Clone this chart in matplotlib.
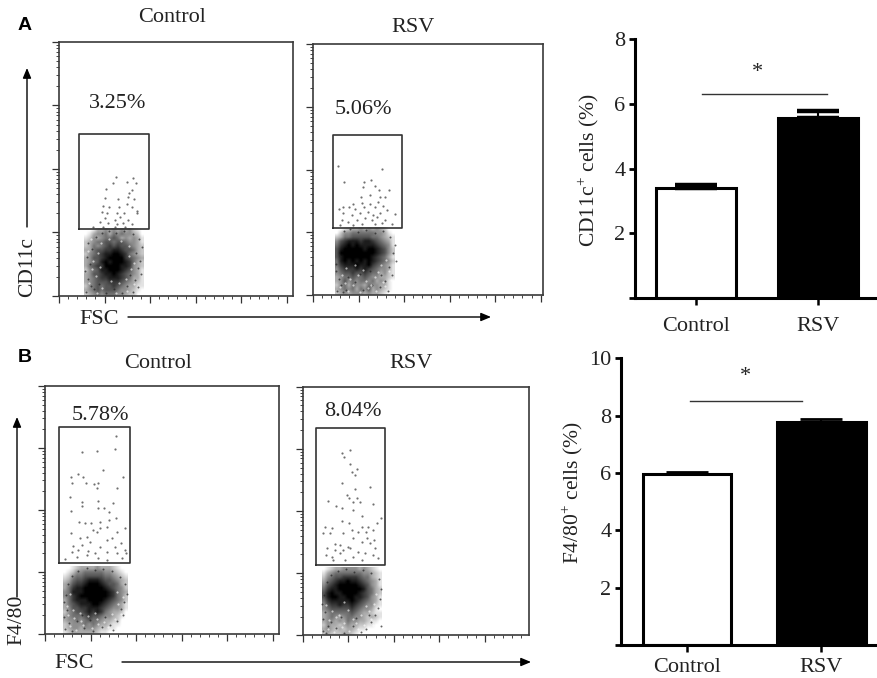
import numpy as np
import matplotlib
matplotlib.use("Agg")
import matplotlib.pyplot as plt

plt.rcParams['font.family'] = ['Liberation Serif', 'DejaVu Serif']
plt.rcParams['mathtext.fontset'] = 'custom'
plt.rcParams['mathtext.rm'] = 'Liberation Serif'

W = 878
H = 678
DARK = '#222222'

# bar values
groups = ['Control', 'RSV']
cd11c_means = [3.40, 5.56]
cd11c_errs = [0.09, 0.21]
f480_means = [5.97, 7.79]
f480_errs = [0.07, 0.09]

# flow plots, units are arbitrary channels (3 per reference pixel)
# cloud = darkness 0-9 of the dense part, top row first
a_ctrl_cloud = ["001334343434210",
                "013445354544320",
                "124345565343431",
                "234556656654431",
                "235456767665432",
                "335667788766532",
                "245678899875432",
                "346678999976543",
                "345689899987532",
                "356779999887432",
                "245688999876431",
                "346678898765431",
                "345677888765331",
                "345666777654321",
                "245656676543311",
                "345656665443210",
                "234545554432200"]
a_ctrl_x = [171,161,223,203,231,140,218,211,207,225,178,138,131,151,181,203,218,233,128,145,175,195,235,138,168,183,208,123,148,173,193,218,103,133,168,198]
a_ctrl_y = [358,338,355,343,340,322,318,310,298,291,291,293,270,268,266,276,268,256,253,248,248,250,248,233,228,238,228,223,218,216,220,216,208,208,208,208]
a_ctrl_dark_x = [82,95,88,105,78,92,84,100,86,110,128,150,172,196,222,240,248,232,244,236,246,228,238,222,205,190,165,140,120,214]
a_ctrl_dark_y = [12,30,52,20,75,95,118,140,160,178,190,196,188,194,186,170,148,128,105,84,66,48,26,12,30,10,22,8,35,62]
a_ctrl_light_x = [90,110,102,118,96,125,150,185,210,225,215,200,180,155,130,115,170,205,225,100,122,210,88]
a_ctrl_light_y = [40,60,105,130,170,160,170,165,150,100,80,50,40,45,25,10,8,15,35,82,88,120,135]

a_rsv_cloud = ["001233434343200",
               "024455555544310",
               "235566666554321",
               "467888788765431",
               "578989888876541",
               "689999989987642",
               "699999999987642",
               "689999999876531",
               "589898989876542",
               "578889889765431",
               "467778787654431",
               "456676676553421",
               "345565565443321",
               "346454554534310",
               "245354435443310",
               "345453546343210",
               "234344434332100"]
a_rsv_x = [76,208,94,153,173,186,151,198,229,171,143,201,216,121,146,196,79,91,109,126,153,171,186,211,221,246,91,116,141,166,181,201,86,106,131,156,176,193,216,236,81,121,146,186,206]
a_rsv_y = [387,376,339,339,344,326,324,314,314,299,292,294,292,272,274,277,256,262,262,256,264,272,264,266,254,242,244,239,244,249,239,244,224,219,224,229,224,234,224,212,209,209,212,212,214]
a_rsv_dark_x = [72,85,78,98,70,68,80,92,110,135,160,185,210,232,245,240,250,228,236,215,200,225,178,150,125,105,90,140,170,205]
a_rsv_dark_y = [10,28,48,15,70,92,115,190,196,188,194,186,190,172,150,125,100,82,58,40,22,12,30,14,38,52,8,62,70,60]
a_rsv_light_x = [82,105,120,140,165,190,215,235,88,112,135,160,185,210,228,100,150,175,205,95,125,195,220]
a_rsv_light_y = [22,12,30,8,20,12,25,45,60,48,58,42,52,38,70,80,75,30,88,35,90,68,105]

b_ctrl_cloud = ["0012333343332100",
                "0124455555443210",
                "1245566666554321",
                "2356678887665432",
                "3467789998766532",
                "3578899999876542",
                "4588899999987543",
                "4578999999987542",
                "3578889999876542",
                "3567888998765431",
                "3466778887654431",
                "2456678787543320",
                "3455567665443210",
                "3445456554332200",
                "2344454543321100",
                "2344344432211000",
                "1233333321100000"]
b_ctrl_x = [214,211,157,112,173,99,77,115,235,80,123,158,147,157,217,74,158,110,205,110,77,158,178,193,103,120,165,193,213,137,145,165,185,215,240,77,105,127,155,185,200,227,85,110,135,165,210,240,80,100,130,150,185,215,243,60,95,125,160,185,230]
b_ctrl_y = [594,555,550,546,492,479,472,470,470,454,454,454,449,437,437,410,399,396,392,385,369,377,377,367,337,334,337,342,347,332,312,317,322,307,317,304,287,292,307,282,287,272,264,267,277,260,262,252,247,252,250,242,247,242,242,224,232,237,227,222,227]
b_ctrl_dark_x = [60,72,58,66,56,62,70,82,100,125,150,175,200,225,240,246,238,228,235,215,195,205,170,145,118,95,80,180,135,110]
b_ctrl_dark_y = [14,32,50,72,95,118,150,175,190,198,192,196,188,172,150,120,95,75,58,40,28,12,22,8,18,38,8,50,42,56]
b_ctrl_light_x = [75,92,115,140,160,190,210,228,70,88,108,130,155,178,200,220,85,235,105,215,65,75,150]
b_ctrl_light_y = [24,12,28,18,30,20,45,60,58,48,40,55,45,35,60,90,72,110,62,125,85,120,62]

b_rsv_cloud = ["012334444343210",
               "134555555544321",
               "245667777655321",
               "356788988765431",
               "467899999876431",
               "578899999986532",
               "689889999876532",
               "689988998876431",
               "578888898765431",
               "467787787654421",
               "456666676544310",
               "345555565433211",
               "345434554432321",
               "344343544332110",
               "243323433221100",
               "343232332110000",
               "232223321000000"]
b_rsv_x = [117,141,125,142,162,148,158,117,202,157,132,140,162,152,172,76,210,100,117,152,177,234,224,117,140,67,87,177,197,212,62,82,122,147,167,190,152,177,214,97,112,137,192,202,72,97,122,142,217,70,87,112,167,187,212,92,127,152,177,227]
b_rsv_y = [548,555,534,513,499,490,481,458,446,438,421,411,411,401,401,402,394,389,381,376,359,351,338,343,336,324,321,324,326,316,308,308,306,316,311,311,291,281,286,274,271,266,291,276,261,256,256,261,261,241,236,246,251,246,241,226,226,236,226,231]
b_rsv_dark_x = [62,75,60,68,58,64,72,85,105,130,155,180,205,228,236,232,226,218,236,205,190,175,150,125,100,85,70,160,200,115]
b_rsv_dark_y = [12,28,48,70,95,122,160,180,192,198,190,196,186,168,140,110,82,60,28,40,20,10,28,8,22,40,8,52,60,55]
b_rsv_light_x = [75,95,118,140,165,185,205,80,100,125,150,175,198,215,88,110,135,160,190,220,70,210,125]
b_rsv_light_y = [20,10,25,12,18,30,48,45,55,38,48,60,72,95,72,62,75,38,88,125,92,30,100]


def px_axes(fig, x0, x1, ytop, ybot):
    return fig.add_axes([x0 / W, 1 - ybot / H, (x1 - x0) / W, (ybot - ytop) / H])


def flow_panel(fig, box, cloud, cloud_x0, px, py, dark, light, gate):
    ax = px_axes(fig, *box)
    w = (box[1] - box[0]) * 3
    h = (box[3] - box[2]) * 3
    grid = np.array([[int(c) for c in row] for row in cloud], dtype=float)
    ext = (cloud_x0, cloud_x0 + 12 * grid.shape[1], 0, 12 * grid.shape[0])
    ax.imshow(grid, extent=ext, cmap='gray_r', vmin=0, vmax=9, aspect='auto',
              interpolation='bilinear', origin='upper')
    ax.scatter(dark[0], dark[1], s=2, color='#222222', linewidths=0, alpha=0.7)
    ax.scatter(light[0], light[1], s=2.5, color='white', linewidths=0, alpha=0.6)
    ax.scatter(px, py, s=2.5, color='#333333', linewidths=0, alpha=0.7)
    ax.plot([gate[0], gate[1], gate[1], gate[0], gate[0]],
            [gate[2], gate[2], gate[3], gate[3], gate[2]], color='#333333', lw=1.2)
    ax.set_xlim(0, w)
    ax.set_ylim(0, h)
    step = 136.6
    ax.set_xticks(np.arange(0, w, step))
    ax.set_xticks(np.arange(0, w, step / 5), minor=True)
    dec = h / 4
    ax.set_yticks([dec * k for k in range(5)])
    minor = [dec * (k + np.log10(m)) for k in range(4) for m in range(2, 10)]
    ax.set_yticks(minor, minor=True)
    ax.set_xticklabels([])
    ax.set_yticklabels([])
    ax.tick_params(which='major', length=5, width=0.9, color='#333333')
    ax.tick_params(which='minor', length=2.5, width=0.7, color='#444444')
    for s in ax.spines.values():
        s.set_linewidth(1.2)
        s.set_color('#3a3a3a')
    return ax


def bar_panel(fig, box, means, errs, ymax, ticks, xlim, line_x, line_y, star_x, star_y, pad, capw):
    ax = px_axes(fig, *box)
    xs = [0, 1]
    ax.bar(xs, means, width=0.66, color=['white', 'black'], edgecolor='black', linewidth=2.2)
    ax.errorbar(xs, means, yerr=[[0, 0], errs], fmt='none', ecolor='black',
                elinewidth=1.5, capsize=15, capthick=capw)
    ax.plot(line_x, [line_y, line_y], color='#333333', lw=1.0)
    ax.text(star_x, star_y, '*', ha='center', va='center', fontsize=16, color=DARK)
    ax.set_xlim(*xlim)
    ax.set_ylim(0, ymax)
    ax.set_xticks(xs)
    ax.set_xticklabels(groups, fontsize=16, color=DARK)
    ax.set_yticks([0] + ticks)
    ax.set_yticklabels([''] + [str(t) for t in ticks], fontsize=16, color=DARK)
    ax.tick_params(axis='x', length=5, width=1.8, pad=pad)
    ax.tick_params(axis='y', length=4, width=2, pad=3)
    ax.spines['top'].set_visible(False)
    ax.spines['right'].set_visible(False)
    ax.spines['left'].set_linewidth(2.2)
    ax.spines['bottom'].set_linewidth(2.2)
    return ax


fig = plt.figure(figsize=(W / 100, H / 100), dpi=100)

flow_panel(fig, (59, 292.7, 42, 296), a_ctrl_cloud, 75, a_ctrl_x, a_ctrl_y,
           (a_ctrl_dark_x, a_ctrl_dark_y), (a_ctrl_light_x, a_ctrl_light_y), (60, 269, 201, 485))
flow_panel(fig, (313, 543.3, 44.3, 294.7), a_rsv_cloud, 66, a_rsv_x, a_rsv_y,
           (a_rsv_dark_x, a_rsv_dark_y), (a_rsv_light_x, a_rsv_light_y), (59, 266, 200, 478))
flow_panel(fig, (45, 279, 386, 634), b_ctrl_cloud, 55, b_ctrl_x, b_ctrl_y,
           (b_ctrl_dark_x, b_ctrl_dark_y), (b_ctrl_light_x, b_ctrl_light_y), (41, 256, 212, 620))
flow_panel(fig, (302.7, 529, 386.7, 635.3), b_rsv_cloud, 57, b_rsv_x, b_rsv_y,
           (b_rsv_dark_x, b_rsv_dark_y), (b_rsv_light_x, b_rsv_light_y), (40, 248, 212, 621))

bar_panel(fig, (635, 878, 39.3, 298), cd11c_means, cd11c_errs, 8, [2, 4, 6, 8],
          (-0.5, 1.49), [0.05, 1.07], 6.32, 0.5, 6.98, 9, 3.2)
bar_panel(fig, (621, 878, 358.3, 645), f480_means, f480_errs, 10, [2, 4, 6, 8, 10],
          (-0.49, 1.42), [0.02, 0.856], 8.51, 0.436, 9.36, 4, 2.0)

# text and arrows placed in reference pixels
ov = fig.add_axes([0, 0, 1, 1])
ov.set_xlim(0, W)
ov.set_ylim(H, 0)
ov.axis('off')
ov.patch.set_alpha(0)

labels = [('Control', 172, 18), ('RSV', 413, 27), ('Control', 158, 363), ('RSV', 411, 363),
          ('3.25%', 118, 104), ('5.06%', 363, 110), ('5.78%', 100, 415), ('8.04%', 353, 411),
          ('FSC', 99, 320), ('FSC', 74, 663)]
for txt, x, y in labels:
    ov.text(x, y, txt, ha='center', va='center', fontsize=16, color=DARK)

ov.text(28, 267, 'CD11c', rotation=90, ha='center', va='center', fontsize=15.5, color=DARK)
ov.text(17, 620, 'F4/80', rotation=90, ha='center', va='center', fontsize=15.5, color=DARK)
ov.text(588, 170, 'CD11c$^{+}$ cells (%)', rotation=90, ha='center', va='center', fontsize=15.5, color=DARK)
ov.text(572, 493, 'F4/80$^{+}$ cells (%)', rotation=90, ha='center', va='center', fontsize=15.5, color=DARK)

ov.text(25, 25, 'A', family='Liberation Sans', fontweight='bold', ha='center', va='center', fontsize=14, color='black')
ov.text(25, 357, 'B', family='Liberation Sans', fontweight='bold', ha='center', va='center', fontsize=14, color='black')

arrows = [((27, 227), (27, 68)), ((128, 317), (491, 317)), ((17, 597), (17, 417)), ((122, 662), (531, 662))]
for start, end in arrows:
    ov.annotate('', xy=end, xytext=start,
                arrowprops=dict(arrowstyle='-|>,head_length=0.6,head_width=0.25', color='black',
                                lw=1.0, shrinkA=0, shrinkB=0))

fig.savefig('out.png', dpi=100)
